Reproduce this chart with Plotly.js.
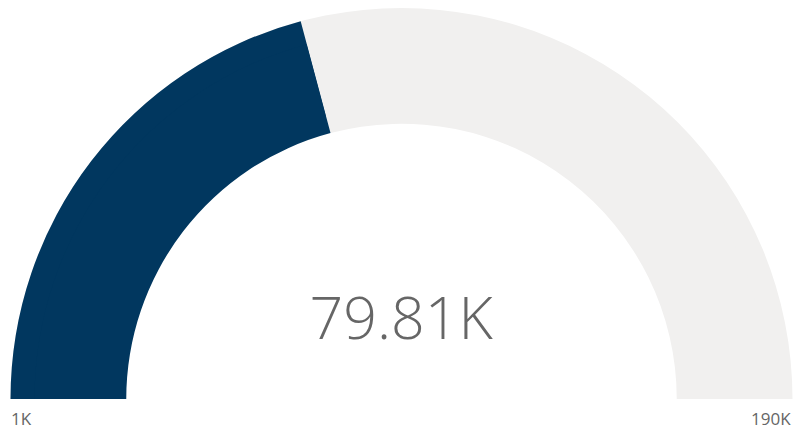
<!DOCTYPE html>
<html><head><meta charset="utf-8">
<script src="https://cdn.plot.ly/plotly-3.0.1.min.js"></script>
<style>html,body{margin:0;padding:0;background:#fff;}#chart{width:794px;height:429px;}</style>
</head><body><div id="chart"></div>
<script>
// values in thousands
const gaugeMin = 1;
const gaugeMax = 190;
const currentValue = 79.81;
const minLabel = "1K";
const maxLabel = "190K";

const barColor = "#01375f";
const trackColor = "#f1f0ef";

function gaugeTrace(domain, useBg) {
  return {
    type: "indicator",
    mode: "gauge",
    value: currentValue,
    domain: domain,
    gauge: {
      shape: "angular",
      axis: {range: [gaugeMin, gaugeMax], visible: false},
      bar: {color: barColor, thickness: 1, line: {width: 0}},
      bgcolor: useBg ? trackColor : "rgba(0,0,0,0)",
      steps: useBg ? [] : [{range: [currentValue, gaugeMax], color: trackColor, thickness: 1, line: {width: 0}}],
      borderwidth: 0
    }
  };
}

const outer = gaugeTrace({x: [0, 1], y: [0, 1]}, true);
// second ring inside, to make the band thicker
const inner = gaugeTrace({x: [0.0313, 0.9687], y: [0, 0.9386]}, false);
const numberTrace = {
  type: "indicator",
  mode: "number",
  value: currentValue,
  number: {suffix: "K", valueformat: ".2f", font: {family: "Open Sans", size: 59, color: "#666666", weight: 300}},
  domain: {x: [0.2, 0.8], y: [0.112, 0.312]}
};

const layout = {
  width: 794, height: 429,
  margin: {l: 10, r: 1, t: 8, b: 30},
  paper_bgcolor: "#ffffff",
  annotations: [
    {text: minLabel, xref: "paper", yref: "paper", x: 0, y: 0, xanchor: "left", yanchor: "top", xshift: -1, yshift: -6, showarrow: false, font: {family: "Open Sans", size: 17, color: "#666666"}},
    {text: maxLabel, xref: "paper", yref: "paper", x: 1, y: 0, xanchor: "right", yanchor: "top", yshift: -6, showarrow: false, font: {family: "Open Sans", size: 17, color: "#666666"}}
  ]
};
Plotly.newPlot("chart", [outer, inner, numberTrace], layout, {displayModeBar: false, staticPlot: true});
</script></body></html>
